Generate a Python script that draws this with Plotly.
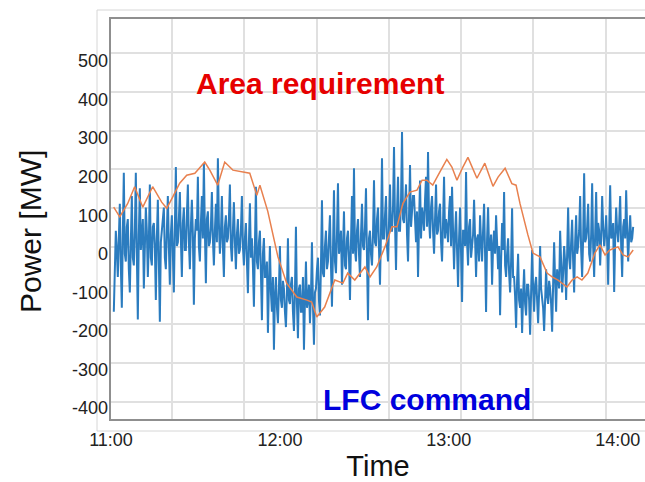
import plotly.graph_objects as go

# ---------------- data ----------------
# time axis is minutes after 11:00
HOUR_TICKS = [0, 60, 120, 180]
HOUR_LABELS = ["11:00", "12:00", "13:00", "14:00"]
Y_TICKS = [500, 400, 300, 200, 100, 0, -100, -200, -300, -400]
Y_LABELS = [str(v) for v in Y_TICKS]

# Area requirement (orange)
area_t = [0.96, 3.1, 5.9, 8.4, 11.3, 14.8, 18.0, 19.8, 21.9, 24.4,
          26.9, 29.8, 33.3, 35.1, 37.9, 40.4, 43.3, 46.8, 49.3, 51.8,
          52.9, 55.7, 59.3, 62.4, 66.0, 69.6, 71.3, 73.1, 75.9, 79.5,
          82.4, 84.1, 86.6, 90.2, 92.0, 94.4, 97.3, 99.8, 101.6, 103.7,
          106.2, 108.7, 110.5, 112.2, 114.3, 116.8, 119.3, 121.1, 122.9, 125.0,
          126.8, 130.0, 132.8, 135.7, 137.5, 140.0, 142.4, 143.9, 145.3, 148.1,
          149.9, 152.4, 154.9, 156.7, 158.8, 162.0, 163.8, 165.6, 167.3, 169.4,
          171.9, 173.7, 175.5, 177.2, 180.1, 181.9, 183.7, 185.5]
area_v = [121, 96, 130, 174, 121, 174, 134, 118, 147, 183,
          204, 209, 238, 217, 178, 238, 217, 212, 209, 152,
          178, 110, -8, -76, -112, -120, -125, -164, -138, -68,
          -76, -50, -68, -34, -60, -34, 18, 70, 70, 131,
          160, 165, 191, 191, 178, 212, 245, 225, 191, 225,
          250, 196, 235, 175, 199, 222, 182, 178, 130, 49,
          2, -8, -50, -60, -68, -86, -68, -60, -68, -50,
          2, 23, -3, 10, 18, -3, -8, 10]

# LFC command (blue), sampled evenly from 11:01 to 14:05
lfc_v = (
    [-150, -20, 60, 10, -60, 40, 130, -30, -140, 50, 210, 0, -20, 70, 90, -40, -100, 30, 150, -10]
    + [-30, 60, 210, 0, -170, 50, 170, 10, 40, 90, -90, 20, 120, 60, -60, 30, 180, -10, -30, 70]
    + [80, 20, -120, 40, 140, -20, -176, 30, 60, 90, 120, -10, -40, 60, 150, 20, -80, 50, 100, 0]
    + [-100, 70, 225, 20, 30, 90, 160, 40, -60, 80, 120, 10, 10, 100, 180, 30, -40, 70, 140, 50]
    + [-132, 40, 90, 60, 200, 20, -20, 80, 150, 40, 235, 60, -76, 90, 110, 20, 30, 70, 160, 40]
    + [-30, 60, 130, 30, 248, 80, 0, 50, 150, 20, -60, 70, 100, 30, 40, 90, 180, 20, -20, 60]
    + [134, 30, -40, 50, 90, 0, 10, 60, 150, 20, -30, 40, 80, -20, -102, 30, 131, -10, 40, -30]
    + [-137, 20, 174, -20, -40, 30, 60, -50, -172, 0, 41, -60, -60, -20, -205, -80, 20, -100, -150, -60]
    + [-249, -110, -60, -140, -180, -90, 20, -120, -140, -70, -90, -150, -190, -100, 40, -120, -130, -80, -60, -150]
    + [-200, -100, 70, -130, -219, -90, -80, -150, -150, -60, -249, -120, -20, -140, -120, -80, -180, -110, 30, -130]
    + [-236, -100, -90, -40, -10, -120, -160, -30, 139, -50, -60, 20, 60, -40, -20, 40, 100, -30, -137, 10]
    + [165, -20, -50, 50, 183, 0, 20, 60, -80, 10, 110, -30, -40, 40, 60, -10, -120, 30, 150, 0]
    + [222, 10, -20, 60, 90, 0, -60, 50, 130, 20, 10, 70, 170, -10, -172, 40, 60, 0, -30, 50]
    + [191, 30, 20, 90, 120, 10, -80, 60, 248, 40, 40, 100, 150, 20, -20, 80, 180, 60, 60, 120]
    + [277, 80, -42, 110, 200, 60, 60, 140, 316, 90, 80, 130, 180, 50, -20, 100, 230, 70, 100, 150]
    + [150, 60, 30, 110, -60, 80, 190, 40, 120, 100, 60, 140, 200, 70, 264, 90, 40, 120, 150, 60]
    + [0, 90, 180, 50, 60, 110, 130, 30, -20, 80, 200, 40, 90, 70, 30, 110, 150, 20, 174, 60]
    + [-40, 50, 110, 10, -86, 40, 120, 0, -125, 60, 60, 20, 212, 30, -30, 70, 90, -10, 20, 50]
    + [140, 20, -60, 40, 50, -20, 100, 30, -20, 60, 130, 0, -151, 40, 121, 10, 10, 50, -80, 20]
    + [60, 0, 100, 30, -40, 20, -159, -20, 80, 10, 160, -30, -60, 0, 40, -50, -100, -20, 118, -60]
    + [-60, -110, -192, -70, 0, -120, -140, -90, -205, -110, -40, -130, -160, -80, -80, -120, -210, -100, 10, -90]
    + [-150, -80, -60, -120, -180, -100, 20, -90, -110, -140, -200, -90, -40, -110, -130, -70, -90, -130, -202, -80]
    + [30, -70, -150, -40, -60, -90, 60, -30, -100, -50, 20, -20, -120, 0, 120, -10, -40, 30, 88, -20]
    + [-100, 30, 100, 0, 20, 60, 150, 10, -60, 40, 209, 30, 40, 70, 130, 0, -20, 50, 183, 20]
    + [-60, 50, 160, 20, 80, 60, -30, 40, 150, 70, 20, 50, 100, 30, -80, 60, 178, 40, 50, 80]
    + [-99, 40, 120, 60, 30, 80, 150, 20, -60, 70, 90, 40, 165, 60, -20, 50, 100, 30, 40, 70]
)
LFC_START, LFC_END = 1.0, 185.5
n = len(lfc_v)
lfc_t = [LFC_START + i * (LFC_END - LFC_START) / (n - 1) for i in range(n)]

# grid positions of the underlying screenshot
X_GRID = [21.8, 47.1, 73.2, 98.9, 124.3, 150.0, 175.7]
Y_GRID = [520.5, 420, 319.5, 219, 118.5, 18, -82.5, -183, -283.5, -384]

X_RANGE = [0, 189.7]
Y_RANGE = [-428.4, 609]

FONT = "Liberation Sans, Arial, sans-serif"

# plot-area pixel geometry (used only to place the free-floating texts)
PL, PR, PT, PB = 111, 645, 19, 419


def px(xp):
    return (xp - PL) / (PR - PL)


def py(yp):
    return (PB - yp) / (PB - PT)


# ---------------- figure ----------------
fig = go.Figure()
# blue on the grid axes (x, y)
fig.add_trace(go.Scatter(x=lfc_t, y=lfc_v, mode="lines",
                         line=dict(color="#2b7cbf", width=2.0),
                         name="LFC command", showlegend=False,
                         xaxis="x", yaxis="y"))
# orange on the labelled overlay axes (x2, y2), drawn on top
fig.add_trace(go.Scatter(x=area_t, y=area_v, mode="lines",
                         line=dict(color="#e8804e", width=1.5),
                         name="Area requirement", showlegend=False,
                         xaxis="x2", yaxis="y2"))

fig.update_layout(
    width=645, height=482,
    margin=dict(l=PL, r=645 - PR, t=PT, b=482 - PB),
    paper_bgcolor="white", plot_bgcolor="white",
    font=dict(family=FONT, color="#222222"),
    xaxis=dict(range=X_RANGE, tickmode="array", tickvals=X_GRID,
               showticklabels=False, showgrid=True, gridcolor="#e0e0e0",
               gridwidth=1.5, zeroline=False, showline=True,
               linecolor="#8f8f8f", linewidth=2, mirror=True, ticks=""),
    yaxis=dict(range=Y_RANGE, tickmode="array", tickvals=Y_GRID,
               showticklabels=False, showgrid=True, gridcolor="#e0e0e0",
               gridwidth=1.5, zeroline=False, showline=True,
               linecolor="#8f8f8f", linewidth=2, mirror=False, ticks=""),
    xaxis2=dict(overlaying="x", anchor="y2", side="bottom", range=X_RANGE,
                tickmode="array", tickvals=HOUR_TICKS, ticktext=HOUR_LABELS,
                showgrid=False, zeroline=False, showline=False, ticks="",
                ticklabelstandoff=8,
                tickfont=dict(size=18, color="#222222"),
                title=dict(text="Time", font=dict(size=29, color="#111111"),
                           standoff=6)),
    yaxis2=dict(overlaying="y", anchor="x2", side="left", range=Y_RANGE,
                tickmode="array", tickvals=Y_TICKS, ticktext=Y_LABELS,
                showgrid=False, zeroline=False, showline=False, ticks="",
                ticklabelstandoff=2,
                tickfont=dict(size=18, color="#222222")),
    shapes=[dict(type="rect", xref="paper", yref="paper",
                 x0=px(97), x1=1.05, y0=py(431), y1=py(10),
                 line=dict(color="#d6d6d6", width=1), layer="below")],
    annotations=[
        dict(text="Power [MW]", xref="paper", yref="paper",
             x=px(30), y=py(232), showarrow=False, textangle=-90,
             xanchor="center", yanchor="middle",
             font=dict(size=30, color="#111111", family=FONT)),
        dict(text="<b>Area requirement</b>", xref="paper", yref="paper",
             x=px(320), y=py(83), showarrow=False,
             xanchor="center", yanchor="middle",
             font=dict(size=30, color="#e60000", family=FONT)),
        dict(text="<b>LFC command</b>", xref="paper", yref="paper",
             x=px(427), y=py(399), showarrow=False,
             xanchor="center", yanchor="middle",
             font=dict(size=30, color="#0000dd", family=FONT)),
    ],
)

fig.write_html("out.html")
